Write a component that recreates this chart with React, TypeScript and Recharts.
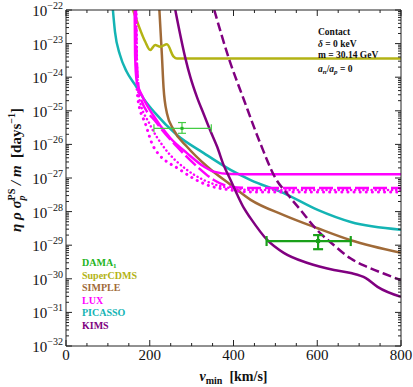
import React from "react";
import { ComposedChart, Line, Scatter, XAxis, YAxis, ErrorBar } from "recharts";

// [v_min (km/s), eta*rho*sigma/m (1/days)]
const superCdms: [number, number][] = [
  [160, 1e-22], [173, 3.55e-23], [189, 1.15e-23], [201, 6.45e-24], [213, 9.1e-24],
  [225, 8.1e-24], [241, 9.5e-24], [257, 4.1e-24], [265, 3.6e-24], [800, 3.6e-24],
];
const simple: [number, number][] = [
  [223, 1e-22], [229, 4.57e-24], [233, 4.8e-25], [241, 8.5e-26], [257, 2.7e-26],
  [289, 8.5e-27], [337, 2.2e-27], [393, 6.3e-28], [441, 2.24e-28], [520, 7.9e-29],
  [601, 3.2e-29], [680, 1.41e-29], [800, 6.0e-30],
];
const luxSolid: [number, number][] = [
  [164, 1e-22], [165, 4.57e-24], [169, 7.4e-25], [181, 2.95e-25], [205, 8.5e-26],
  [249, 1.55e-26], [289, 5.5e-27], [329, 2.2e-27], [353, 1.55e-27], [393, 1.32e-27],
  [450, 1.3e-27], [800, 1.3e-27],
];
const luxDashed: [number, number][] = [
  [167, 1e-22], [169, 3.2e-24], [177, 2.6e-25], [217, 4.3e-26], [265, 8.5e-27],
  [313, 2.2e-27], [353, 8.7e-28], [393, 5.5e-28], [450, 5.0e-28], [800, 5.0e-28],
];
const luxDotted: [number, number][] = [
  [168, 1e-22], [170, 1.58e-24], [174, 2.6e-25], [200, 4e-26], [233, 8.5e-27],
  [289, 1.74e-27], [329, 8.7e-28], [393, 5.0e-28], [450, 4.4e-28], [800, 4.4e-28],
];
const luxDotted2: [number, number][] = [
  [166, 1e-22], [168, 1.58e-24], [172, 2.1e-25], [190, 4e-26], [209, 8.5e-27],
  [273, 1.74e-27], [337, 6.2e-28], [393, 4.4e-28], [450, 3.8e-28], [800, 3.8e-28],
];
const picasso: [number, number][] = [
  [112, 1e-22], [117, 2.24e-23], [129, 4.57e-24], [145, 1.45e-24], [165, 5.9e-25],
  [185, 2.35e-25], [213, 8.5e-26], [265, 1.9e-26], [329, 5.5e-27], [393, 1.74e-27],
  [441, 8.7e-28], [520, 3.55e-28], [601, 1.12e-28], [680, 4.9e-29], [800, 2.9e-29],
];
const kims: [number, number][] = [
  [261, 1e-22], [285, 3.7e-24], [297, 1e-24], [313, 2.5e-25], [329, 7.9e-26],
  [345, 2.5e-26], [361, 8.5e-27], [376, 2.5e-27], [393, 8.7e-28], [409, 3.16e-28],
  [425, 1.26e-28], [441, 6.3e-29], [481, 1.41e-29], [520, 5.9e-30], [577, 2.95e-30],
  [640, 1.82e-30], [680, 1.48e-30], [716, 1.05e-30], [744, 5.75e-31], [800, 2.9e-31],
];
const kimsDashed: [number, number][] = [
  [354, 1e-22], [389, 3.6e-24], [425, 2.1e-25], [465, 1e-26], [500, 1e-27],
  [530, 3.16e-28], [560, 1.12e-28], [600, 2.8e-29], [640, 1e-29], [680, 4e-30],
  [720, 2.24e-30], [760, 1.41e-30], [800, 9.1e-31],
];

// DAMA points: value, x error [low, high], y error [low, high]
const damaA = [{ v: 277, y: 3.0e-26, ex: [67, 70], ey: [0.86e-26, 1.47e-26] }];
const damaB = [{ v: 602, y: 1.33e-29, ex: [123, 78], ey: [0.57e-29, 0.67e-29] }];

const legendNames = ["DAMA", "SuperCDMS", "SIMPLE", "LUX", "PICASSO", "KIMS"];
const legendColors = ["#22b422", "#b3b314", "#a06a38", "#ff00ff", "#14b4b4", "#800080"];

const decades = [-32, -31, -30, -29, -28, -27, -26, -25, -24, -23, -22];
const xMajor = [0, 200, 400, 600, 800];

const yTicks: number[] = [];
decades.forEach((d) => {
  if (d === -22) { yTicks.push(1e-22); return; }
  for (let k = 1; k <= 9; k++) yTicks.push(k * Math.pow(10, d));
});
const xTicks: number[] = [];
for (let v = 0; v <= 800; v += 50) xTicks.push(v);

const FONT = "'Liberation Serif', 'Times New Roman', serif";
const INK = "#222";

const rows = (pts: [number, number][]) => pts.map(([v, y]) => ({ v, y }));

const YTick = (props: any) => {
  const { x, y, payload, side } = props;
  const e = Math.log10(payload.value);
  const major = Math.abs(e - Math.round(e)) < 1e-6;
  const dir = side === "left" ? 1 : -1;
  const len = major ? 6 : 3;
  return (
    <g>
      <line x1={x} x2={x + dir * len} y1={y} y2={y} stroke={INK} strokeWidth={1} />
      {major && side === "left" && (
        <text x={x - 3} y={y + 6} textAnchor="end" fontFamily={FONT} fontSize={15} fill="#111">
          10<tspan dy={-7} fontSize={10}>{"\u2212" + Math.abs(Math.round(e))}</tspan>
        </text>
      )}
    </g>
  );
};

const XTick = (props: any) => {
  const { x, y, payload, side } = props;
  const major = xMajor.includes(payload.value);
  const dir = side === "bottom" ? -1 : 1;
  const len = major ? 6 : 3;
  return (
    <g>
      <line x1={x} x2={x} y1={y} y2={y + dir * len} stroke={INK} strokeWidth={1} />
      {major && side === "bottom" && (
        <text x={x} y={y + 14} textAnchor="middle" fontFamily={FONT} fontSize={15} fill="#111">
          {payload.value}
        </text>
      )}
    </g>
  );
};

const XLabel = (props: any) => {
  const { viewBox } = props;
  const cx = viewBox.x + viewBox.width / 2;
  return (
    <text x={cx} y={381} textAnchor="middle" fontFamily={FONT} fontSize={14} fontWeight="bold" fill="#111">
      <tspan fontStyle="italic">v</tspan>
      <tspan fontSize={10} dy={3}>min</tspan>
      <tspan dy={-3}>{"\u00a0\u00a0[km/s]"}</tspan>
    </text>
  );
};

const YLabel = () => (
  <text
    x={21}
    y={170}
    transform="rotate(-90, 21, 170)"
    textAnchor="middle"
    fontFamily={FONT}
    fontSize={15}
    fontWeight="bold"
    fill="#111"
  >
    <tspan fontStyle="italic">{"\u03b7 \u03c1 \u03c3"}</tspan>
    <tspan fontStyle="italic" fontSize={10} dy={4}>p</tspan>
    <tspan fontSize={10} dx={-5} dy={-10}>PS</tspan>
    <tspan fontStyle="italic" dy={6}>{"\u00a0/\u00a0m"}</tspan>
    <tspan>{"\u00a0\u00a0[days"}</tspan>
    <tspan fontSize={10} dy={-6}>{"\u22121"}</tspan>
    <tspan dy={6}>]</tspan>
  </text>
);

const Overlay = () => (
  <svg width={413} height={387} style={{ position: "absolute", left: 0, top: 0, pointerEvents: "none" }}>
    <g fontFamily={FONT} fontWeight="bold" fontSize={9.5} fill="#111">
      <text x={318} y={35}>Contact</text>
      <text x={318} y={46.5}>
        <tspan fontStyle="italic">{"\u03b4"}</tspan> = 0 keV
      </text>
      <text x={318} y={58}>m = 30.14 GeV</text>
      <text x={318} y={72}>
        <tspan fontStyle="italic">a</tspan>
        <tspan fontStyle="italic" fontSize={7} dy={2}>n</tspan>
        <tspan dy={-2}>/</tspan>
        <tspan fontStyle="italic">a</tspan>
        <tspan fontStyle="italic" fontSize={7} dy={2}>p</tspan>
        <tspan dy={-2}> = 0</tspan>
      </text>
    </g>
    <g fontFamily={FONT} fontWeight="bold" fontSize={10}>
      {legendNames.map((n, i) => (
        <text key={n} x={82} y={266 + i * 12.6} fill={legendColors[i]}>
          {n}
          {i === 0 && <tspan fontSize={7} dy={2}>1</tspan>}
        </text>
      ))}
    </g>
  </svg>
);

const damaPoint = (size: number, color: string) => (p: any) => (
  <rect x={p.cx - size / 2} y={p.cy - size / 2} width={size} height={size} fill={color} />
);

export default function App() {
  const line = (data: [number, number][], color: string, dash?: string, w = 2.5) => (
    <Line
      data={rows(data)}
      dataKey="y"
      type="monotone"
      stroke={color}
      strokeWidth={w}
      strokeDasharray={dash}
      strokeLinecap={dash && dash.startsWith("0.1") ? "round" : "butt"}
      dot={false}
      activeDot={false}
      isAnimationActive={false}
    />
  );
  return (
    <div style={{ position: "absolute", left: 0, top: 0, width: 413, height: 387, background: "#fff" }}>
      <ComposedChart width={413} height={387} margin={{ top: 0, right: 0, bottom: 0, left: 0 }}>
        <XAxis
          xAxisId={0}
          dataKey="v"
          type="number"
          domain={[0, 800]}
          allowDataOverflow
          ticks={xTicks}
          interval={0}
          height={41}
          tickSize={0}
          tickMargin={0}
          stroke={INK}
          tick={(p: any) => <XTick {...p} side="bottom" />}
          label={<XLabel />}
        />
        <XAxis
          xAxisId="top"
          orientation="top"
          dataKey="v"
          type="number"
          domain={[0, 800]}
          allowDataOverflow
          ticks={xTicks}
          interval={0}
          height={10}
          tickSize={0}
          tickMargin={0}
          stroke={INK}
          tick={(p: any) => <XTick {...p} side="top" />}
        />
        <YAxis
          yAxisId={0}
          type="number"
          scale="log"
          domain={[1e-32, 1e-22]}
          allowDataOverflow
          ticks={yTicks}
          interval={0}
          width={66}
          tickSize={0}
          tickMargin={0}
          stroke={INK}
          tick={(p: any) => <YTick {...p} side="left" />}
          label={<YLabel />}
        />
        <YAxis
          yAxisId="right"
          orientation="right"
          type="number"
          scale="log"
          domain={[1e-32, 1e-22]}
          allowDataOverflow
          ticks={yTicks}
          interval={0}
          width={12}
          tickSize={0}
          tickMargin={0}
          stroke={INK}
          tick={(p: any) => <YTick {...p} side="right" />}
        />
        {line(picasso, "#14b4b4")}
        {line(simple, "#a06a38")}
        {line(superCdms, "#b3b314")}
        {line(luxDotted2, "#ff00ff", "0.1 6", 3)}
        {line(luxDotted, "#ff00ff", "0.1 4", 2.5)}
        {line(luxDashed, "#ff00ff", "14 4")}
        {line(luxSolid, "#ff00ff")}
        {line(kims, "#800080")}
        {line(kimsDashed, "#800080", "9 4")}
        <Scatter data={damaA} dataKey="y" shape={damaPoint(3, "#22b422")} isAnimationActive={false}>
          <ErrorBar dataKey="ex" direction="x" width={4} stroke="#44cc44" strokeWidth={1.2} />
          <ErrorBar dataKey="ey" direction="y" width={4} stroke="#44cc44" strokeWidth={1.2} />
        </Scatter>
        <Scatter data={damaB} dataKey="y" shape={damaPoint(4, "#1a9e1a")} isAnimationActive={false}>
          <ErrorBar dataKey="ex" direction="x" width={5} stroke="#1aa01a" strokeWidth={2.2} />
          <ErrorBar dataKey="ey" direction="y" width={5} stroke="#1aa01a" strokeWidth={2.2} />
        </Scatter>
      </ComposedChart>
      <Overlay />
    </div>
  );
}
